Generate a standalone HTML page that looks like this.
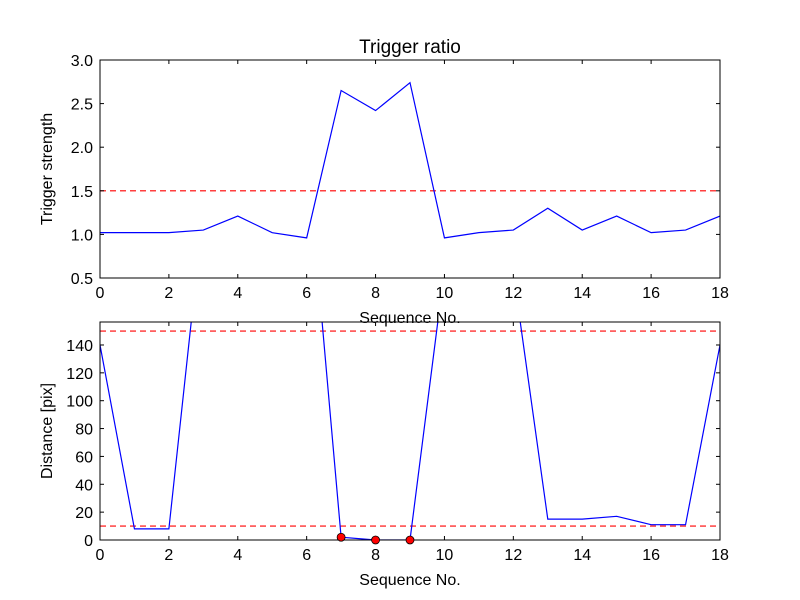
<!DOCTYPE html>
<html><head><meta charset="utf-8"><style>
body{margin:0;background:#fff;}
svg{display:block;font-family:"Liberation Sans","DejaVu Sans",sans-serif;}
</style></head><body>
<svg id="c" width="800" height="600"></svg>
<script>
const seq=[0,1,2,3,4,5,6,7,8,9,10,11,12,13,14,15,16,17,18];
const strength=[1.02,1.02,1.02,1.05,1.21,1.02,0.96,2.65,2.42,2.74,0.96,1.02,1.05,1.30,1.05,1.21,1.02,1.05,1.21];
const distance=[140,8,8,237,240,240,282,2,0,0,194,200,192,15,15,17,11,11,140];
const triggered=[7,8,9];
const topThreshold=[1.5];
const botThresholds=[10,150];
const xTicks=[0,2,4,6,8,10,12,14,16,18];
const topTicks=[0.5,1.0,1.5,2.0,2.5,3.0];
const botTicks=[0,20,40,60,80,100,120,140];
const NS="http://www.w3.org/2000/svg";
const svg=document.getElementById('c');
function mk(t,a,p){const e=document.createElementNS(NS,t);for(const k in a)e.setAttribute(k,a[k]);(p||svg).appendChild(e);return e;}
function panel(y0,y1,ymin,ymax,name){
  const X=v=>100+v*(620/18), Y=v=>y1-(v-ymin)/(ymax-ymin)*(y1-y0);
  return {X,Y,y0,y1,name};
}
function drawPanel(P,ticks,fmt,vals,thr,ylabel,clip){
  const g=mk('g',{});
  
  
  const cp=mk('clipPath',{id:clip},g);mk('rect',{x:100,y:P.y0,width:620,height:P.y1-P.y0},cp);
  const pg=mk('g',{'clip-path':'url(#'+clip+')'},g);
  thr.forEach(t=>{const l=mk('line',{x1:100,x2:720,y1:P.Y(t),y2:P.Y(t),stroke:'red','stroke-dasharray':'6,4','stroke-width':1.2},pg);
    });
  const pl=mk('polyline',{points:seq.map((s,i)=>P.X(s)+','+P.Y(vals[i])).join(' '),fill:'none',stroke:'blue','stroke-width':1.2},pg);
  
  mk('rect',{x:100,y:P.y0,width:620,height:P.y1-P.y0,fill:'none',stroke:'#000','stroke-width':1},g);
  xTicks.forEach(t=>{const x=P.X(t);
    mk('line',{x1:x,x2:x,y1:P.y1,y2:P.y1-4,stroke:'#000'},g);mk('line',{x1:x,x2:x,y1:P.y0,y2:P.y0+4,stroke:'#000'},g);
    const tx=mk('text',{x:x,y:P.y1+20,'text-anchor':'middle','font-size':16},g);tx.textContent=t;
    });
  ticks.forEach(t=>{const y=P.Y(t);
    mk('line',{x1:100,x2:104,y1:y,y2:y,stroke:'#000'},g);mk('line',{x1:716,x2:720,y1:y,y2:y,stroke:'#000'},g);
    const tx=mk('text',{x:93,y:y+6,'text-anchor':'end','font-size':16},g);tx.textContent=fmt(t);
    });
  const yl=mk('text',{x:0,y:0,'text-anchor':'middle','font-size':16,transform:`translate(52,${(P.y0+P.y1)/2}) rotate(-90)`},g);
  yl.textContent=ylabel;
  const xl=mk('text',{x:410,y:P.y1+45,'text-anchor':'middle','font-size':16},g);
  xl.textContent='Sequence No.';
  return pg;
}
const T=panel(60,278,0.5,3.0,'trigger-strength-panel');
drawPanel(T,topTicks,v=>v.toFixed(1),strength,topThreshold,'Trigger strength','c1');
const B=panel(322,540,0,156.5,'distance-panel');
const bg=drawPanel(B,botTicks,v=>v,distance,botThresholds,'Distance [pix]','c2');
triggered.forEach(s=>{const c=mk('circle',{cx:B.X(s),cy:B.Y(distance[s]),r:4,fill:'red',stroke:'#000','stroke-width':0.8},svg);
  });
const ti=mk('text',{x:410,y:53,'text-anchor':'middle','font-size':19});
ti.textContent='Trigger ratio';
</script>
</body></html>
